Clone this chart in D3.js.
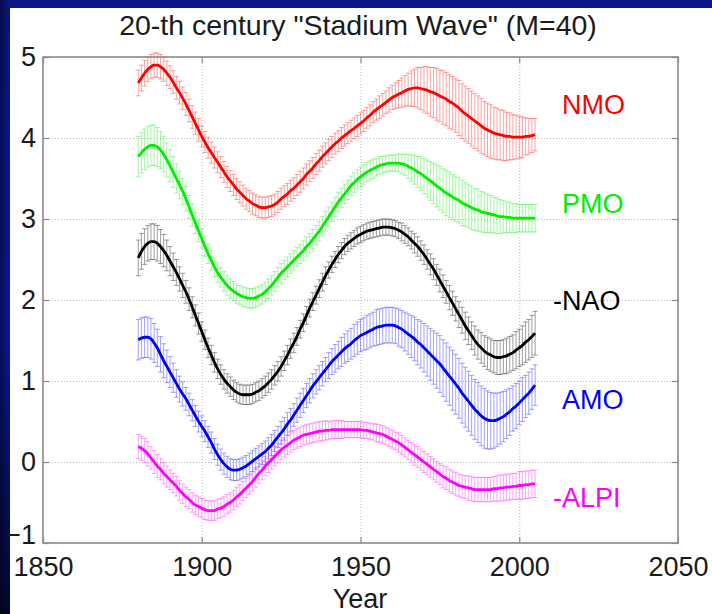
<!DOCTYPE html>
<html><head><meta charset="utf-8">
<script src="https://cdn.jsdelivr.net/npm/d3@7/dist/d3.min.js"></script>
<style>html,body{margin:0;padding:0;background:#0a1580;}svg{display:block}</style>
</head><body>
<svg id="chart" width="712" height="614"></svg>
<script>
const startYear = 1880;
const xTicks = [1850, 1900, 1950, 2000, 2050];
const yTicks = [-1, 0, 1, 2, 3, 4, 5];
const seriesNames = ["NMO", "PMO", "-NAO", "AMO", "-ALPI"];
const seriesColors = ["#ff0000", "#00ee00", "#000000", "#0000ff", "#ff00ff"];
const labelValues = [4.42, 3.19, 2.0, 0.78, -0.43];

const nmo = [4.68,4.74,4.80,4.85,4.88,4.90,4.90,4.88,4.85,4.80,
4.75,4.69,4.62,4.56,4.49,4.42,4.34,4.26,4.18,4.10,
4.02,3.95,3.88,3.82,3.76,3.70,3.64,3.58,3.52,3.47,
3.42,3.37,3.33,3.29,3.25,3.22,3.19,3.17,3.15,3.14,
3.14,3.15,3.16,3.18,3.21,3.25,3.28,3.31,3.35,3.38,
3.42,3.46,3.50,3.55,3.59,3.63,3.68,3.72,3.77,3.81,
3.85,3.89,3.93,3.96,4.00,4.03,4.06,4.09,4.12,4.15,
4.18,4.21,4.25,4.28,4.32,4.35,4.38,4.41,4.44,4.47,
4.50,4.52,4.54,4.56,4.58,4.60,4.61,4.62,4.62,4.61,
4.60,4.59,4.57,4.56,4.54,4.52,4.50,4.48,4.45,4.43,
4.40,4.37,4.33,4.30,4.27,4.24,4.21,4.18,4.15,4.12,
4.10,4.08,4.06,4.05,4.04,4.03,4.02,4.02,4.01,4.01,
4.01,4.01,4.02,4.02,4.03,4.04];
const nmoErr = [.16,.16,.16,.15,.15,.15,.15,.15,.15,.15,
.14,.14,.14,.14,.14,.14,.14,.14,.14,.14,
.13,.13,.13,.13,.13,.13,.13,.13,.13,.13,
.13,.13,.13,.13,.13,.13,.13,.13,.13,.13,
.13,.13,.13,.13,.13,.13,.13,.13,.13,.13,
.13,.13,.13,.13,.13,.13,.13,.13,.13,.13,
.13,.13,.13,.13,.13,.13,.13,.13,.13,.13,
.13,.13,.13,.13,.13,.13,.14,.14,.14,.15,
.15,.16,.17,.18,.19,.20,.22,.23,.25,.26,
.28,.29,.30,.31,.32,.32,.33,.33,.33,.33,
.33,.34,.34,.34,.34,.34,.34,.34,.34,.33,
.33,.33,.32,.32,.31,.31,.30,.29,.28,.27,
.26,.25,.23,.22,.21,.20];

const pmo = [3.77,3.82,3.86,3.89,3.91,3.91,3.89,3.85,3.80,3.73,
3.66,3.58,3.50,3.42,3.34,3.25,3.15,3.05,2.95,2.85,
2.76,2.66,2.57,2.49,2.41,2.34,2.28,2.23,2.18,2.14,
2.11,2.08,2.06,2.04,2.03,2.02,2.02,2.03,2.05,2.07,
2.10,2.14,2.18,2.23,2.28,2.33,2.37,2.41,2.45,2.49,
2.53,2.57,2.61,2.66,2.70,2.75,2.80,2.85,2.91,2.97,
3.03,3.09,3.15,3.21,3.26,3.31,3.36,3.41,3.45,3.49,
3.52,3.55,3.58,3.60,3.62,3.64,3.66,3.67,3.68,3.69,
3.69,3.69,3.69,3.68,3.67,3.65,3.63,3.61,3.58,3.56,
3.53,3.50,3.47,3.44,3.41,3.38,3.35,3.32,3.30,3.27,
3.25,3.23,3.20,3.18,3.16,3.14,3.12,3.11,3.09,3.08,
3.07,3.06,3.05,3.04,3.03,3.03,3.02,3.02,3.01,3.01,
3.01,3.01,3.01,3.01,3.01,3.01];
const pmoErr = [.25,.25,.25,.25,.25,.25,.24,.23,.22,.21,
.20,.19,.18,.17,.16,.15,.14,.14,.13,.13,
.12,.12,.12,.12,.12,.12,.12,.12,.12,.12,
.12,.12,.12,.12,.12,.12,.12,.12,.12,.12,
.12,.12,.12,.12,.12,.12,.12,.12,.12,.12,
.12,.12,.12,.12,.12,.12,.12,.12,.12,.12,
.12,.12,.12,.12,.12,.12,.12,.12,.12,.12,
.12,.12,.12,.12,.12,.11,.11,.10,.10,.10,
.10,.10,.11,.12,.13,.15,.16,.18,.19,.21,
.22,.23,.24,.25,.26,.27,.27,.28,.28,.28,
.28,.28,.28,.27,.27,.27,.26,.26,.25,.25,
.24,.23,.22,.22,.21,.20,.19,.19,.18,.18,
.17,.17,.17,.17,.17,.17];

const nao = [2.52,2.60,2.66,2.70,2.72,2.72,2.70,2.66,2.61,2.55,
2.48,2.41,2.34,2.26,2.18,2.10,2.01,1.91,1.81,1.71,
1.61,1.51,1.41,1.32,1.23,1.15,1.08,1.02,0.97,0.93,
0.89,0.86,0.84,0.83,0.83,0.83,0.84,0.86,0.88,0.91,
0.94,0.98,1.02,1.07,1.12,1.18,1.25,1.32,1.40,1.47,
1.55,1.64,1.72,1.81,1.90,1.98,2.06,2.14,2.22,2.30,
2.37,2.44,2.50,2.56,2.61,2.66,2.70,2.73,2.76,2.79,
2.81,2.83,2.85,2.86,2.87,2.88,2.89,2.90,2.90,2.90,
2.89,2.88,2.86,2.84,2.81,2.78,2.74,2.70,2.66,2.61,
2.56,2.50,2.44,2.38,2.31,2.24,2.17,2.10,2.03,1.96,
1.89,1.82,1.75,1.68,1.62,1.56,1.50,1.45,1.41,1.37,
1.34,1.32,1.30,1.29,1.29,1.30,1.31,1.33,1.35,1.38,
1.41,1.44,1.48,1.51,1.55,1.59];
const naoErr = [.22,.22,.22,.22,.22,.22,.22,.21,.20,.19,
.18,.17,.16,.15,.15,.14,.14,.13,.13,.13,
.12,.12,.12,.12,.12,.12,.12,.12,.12,.12,
.12,.12,.12,.12,.12,.12,.12,.12,.12,.12,
.12,.12,.12,.12,.12,.12,.12,.12,.12,.12,
.11,.11,.11,.11,.11,.11,.11,.11,.11,.11,
.10,.10,.10,.10,.10,.10,.10,.10,.10,.10,
.10,.10,.10,.10,.10,.10,.10,.10,.10,.10,
.10,.10,.10,.11,.11,.11,.11,.12,.12,.12,
.12,.12,.13,.13,.13,.14,.14,.14,.15,.15,
.15,.16,.16,.17,.17,.17,.18,.18,.19,.19,
.20,.20,.20,.21,.21,.21,.22,.22,.22,.23,
.23,.24,.25,.25,.26,.27];

const amo = [1.51,1.53,1.54,1.54,1.52,1.47,1.41,1.33,1.25,1.18,
1.11,1.04,0.97,0.90,0.84,0.78,0.71,0.64,0.57,0.50,
0.44,0.38,0.31,0.24,0.16,0.09,0.03,-0.02,-0.06,-0.09,
-0.10,-0.10,-0.09,-0.07,-0.05,-0.02,0.01,0.04,0.07,0.10,
0.13,0.17,0.21,0.26,0.31,0.36,0.41,0.47,0.52,0.58,
0.64,0.70,0.76,0.82,0.88,0.94,0.99,1.04,1.09,1.14,
1.19,1.24,1.28,1.32,1.36,1.40,1.43,1.46,1.50,1.53,
1.56,1.58,1.60,1.62,1.64,1.66,1.67,1.68,1.69,1.69,
1.69,1.68,1.66,1.64,1.61,1.58,1.55,1.52,1.48,1.45,
1.41,1.37,1.33,1.29,1.25,1.21,1.16,1.11,1.06,1.01,
0.96,0.91,0.85,0.80,0.75,0.70,0.65,0.61,0.57,0.54,
0.52,0.51,0.51,0.52,0.54,0.56,0.59,0.62,0.66,0.69,
0.73,0.77,0.81,0.85,0.90,0.95];
const amoErr = [.25,.25,.25,.25,.25,.24,.23,.22,.21,.20,
.19,.18,.17,.16,.15,.14,.14,.13,.13,.13,
.13,.13,.13,.13,.13,.13,.13,.13,.13,.13,
.13,.13,.13,.13,.13,.13,.13,.13,.13,.13,
.13,.13,.13,.13,.13,.14,.14,.14,.14,.14,
.15,.15,.15,.15,.15,.15,.15,.15,.15,.15,
.16,.16,.17,.17,.18,.18,.19,.19,.20,.20,
.20,.20,.21,.21,.21,.22,.22,.22,.22,.22,
.22,.22,.23,.23,.24,.25,.26,.27,.28,.29,
.30,.31,.32,.33,.34,.35,.35,.36,.36,.37,
.37,.37,.37,.37,.37,.37,.37,.37,.37,.37,
.36,.35,.34,.33,.32,.31,.30,.29,.28,.28,
.27,.27,.26,.26,.25,.25];

const alpi = [0.19,0.17,0.14,0.10,0.05,0.00,-0.05,-0.09,-0.14,-0.18,
-0.22,-0.26,-0.30,-0.35,-0.39,-0.43,-0.46,-0.50,-0.53,-0.55,
-0.57,-0.59,-0.60,-0.60,-0.60,-0.58,-0.57,-0.55,-0.52,-0.50,
-0.47,-0.43,-0.40,-0.36,-0.32,-0.28,-0.24,-0.19,-0.14,-0.10,
-0.05,-0.01,0.03,0.07,0.11,0.15,0.18,0.21,0.24,0.27,
0.29,0.31,0.33,0.34,0.35,0.36,0.37,0.38,0.38,0.39,
0.39,0.40,0.40,0.40,0.40,0.40,0.40,0.40,0.40,0.40,
0.40,0.39,0.39,0.38,0.37,0.36,0.35,0.34,0.32,0.30,
0.28,0.26,0.24,0.21,0.18,0.15,0.12,0.09,0.06,0.03,
0.00,-0.03,-0.06,-0.09,-0.12,-0.15,-0.18,-0.20,-0.23,-0.25,
-0.27,-0.29,-0.30,-0.31,-0.32,-0.33,-0.34,-0.34,-0.34,-0.34,
-0.34,-0.34,-0.33,-0.33,-0.32,-0.32,-0.31,-0.31,-0.30,-0.30,
-0.29,-0.29,-0.28,-0.28,-0.27,-0.27];
const alpiErr = [.15,.15,.15,.15,.14,.14,.14,.13,.13,.13,
.12,.12,.12,.12,.12,.12,.12,.12,.12,.12,
.12,.12,.12,.12,.12,.12,.12,.12,.12,.12,
.12,.12,.12,.12,.12,.12,.12,.12,.12,.12,
.12,.12,.12,.12,.12,.12,.12,.12,.12,.12,
.12,.12,.12,.12,.12,.12,.12,.12,.12,.12,
.11,.11,.11,.11,.11,.10,.10,.10,.10,.10,
.10,.10,.10,.10,.10,.11,.11,.11,.11,.11,
.11,.11,.12,.12,.12,.12,.12,.13,.13,.13,
.13,.13,.13,.13,.13,.13,.14,.14,.14,.14,
.14,.14,.14,.14,.15,.15,.15,.15,.15,.15,
.15,.15,.15,.16,.16,.16,.16,.16,.16,.16,
.17,.17,.17,.17,.17,.17];

const seriesMeans = [nmo, pmo, nao, amo, alpi];
const seriesErrs = [nmoErr, pmoErr, naoErr, amoErr, alpiErr];

(function draw() {
const W = 712, H = 614;
const pL = 43, pR = 678, pT = 57, pB = 543;
const FONT = "'Liberation Sans', Arial, Helvetica, sans-serif";

const svg = d3.select("#chart");
const defs = svg.append("defs");
const g1 = defs.append("linearGradient").attr("id", "bgv").attr("x1", 0).attr("y1", 0).attr("x2", 0).attr("y2", 1);
g1.append("stop").attr("offset", "0%").attr("stop-color", "#0b1687");
g1.append("stop").attr("offset", "55%").attr("stop-color", "#0a1a9e");
g1.append("stop").attr("offset", "100%").attr("stop-color", "#020838");
const g2 = defs.append("linearGradient").attr("id", "bgh").attr("x1", 0).attr("y1", 0).attr("x2", 1).attr("y2", 0);
g2.append("stop").attr("offset", "0%").attr("stop-color", "#000000").attr("stop-opacity", 0.45);
g2.append("stop").attr("offset", "100%").attr("stop-color", "#000000").attr("stop-opacity", 0);

svg.append("rect").attr("width", W).attr("height", H).attr("fill", "url(#bgv)");
svg.append("rect").attr("width", 10).attr("height", H).attr("fill", "url(#bgh)");
svg.append("rect").attr("x", 10).attr("y", 8).attr("width", W - 10).attr("height", H - 8).attr("fill", "#ffffff");

const x = d3.scaleLinear().domain([1850, 2050]).range([pL, pR]);
const y = d3.scaleLinear().domain([-1, 5]).range([pB, pT]);

// grid
const grid = svg.append("g").attr("stroke", "#b8b8b8").attr("stroke-width", 1).attr("stroke-dasharray", "1,2");
grid.selectAll(".gx").data(xTicks.slice(1, -1)).join("line")
  .attr("x1", d => x(d) + 0.5).attr("x2", d => x(d) + 0.5).attr("y1", pT).attr("y2", pB);
grid.selectAll(".gy").data(yTicks.slice(1, -1)).join("line")
  .attr("y1", d => y(d) + 0.5).attr("y2", d => y(d) + 0.5).attr("x1", pL).attr("x2", pR);

// error bars
const cap = 2.5;
seriesMeans.forEach((m, si) => {
  const e = seriesErrs[si];
  const gg = svg.append("g").attr("stroke", seriesColors[si]).attr("stroke-opacity", si === 2 ? 0.38 : 0.36).attr("stroke-width", 1);
  m.forEach((v, i) => {
    const yr = startYear + i;
    const xx = x(yr), y1 = y(v - e[i]), y2 = y(v + e[i]);
    gg.append("line").attr("x1", xx).attr("x2", xx).attr("y1", y1).attr("y2", y2);
    gg.append("line").attr("x1", xx - cap).attr("x2", xx + cap).attr("y1", y1).attr("y2", y1);
    gg.append("line").attr("x1", xx - cap).attr("x2", xx + cap).attr("y1", y2).attr("y2", y2);
  });
});

// mean lines
const line = d3.line().x((d, i) => x(startYear + i)).y(d => y(d)).curve(d3.curveMonotoneX);
seriesMeans.forEach((m, si) => {
  svg.append("path").datum(m).attr("d", line).attr("fill", "none")
    .attr("stroke", seriesColors[si]).attr("stroke-width", 2.8).attr("stroke-linejoin", "round");
});

// axes
function styleAxis(sel, showText) {
  sel.select(".domain").remove();
  sel.selectAll(".tick line").attr("stroke", "#8a8a8a").attr("stroke-width", 1.2);
  sel.selectAll(".tick text").attr("fill", "#1a1a1a").style("font-family", FONT).style("font-size", "27px");
  if (!showText) sel.selectAll(".tick text").remove();
}
svg.append("g").attr("transform", `translate(0,${pB})`)
  .call(d3.axisBottom(x).tickValues(xTicks).tickSize(-6).tickPadding(14).tickFormat(d3.format("d")))
  .call(s => styleAxis(s, true));
svg.append("g").attr("transform", `translate(0,${pT})`)
  .call(d3.axisTop(x).tickValues(xTicks).tickSize(-6)).call(s => styleAxis(s, false));
const yAx = svg.append("g").attr("transform", `translate(${pL},0)`)
  .call(d3.axisLeft(y).tickValues(yTicks).tickSize(-6).tickPadding(7).tickFormat(d3.format("d")))
  .call(s => styleAxis(s, true));
// lift the lowest label a little, as in the reference, so it sits just above "1850"
yAx.selectAll(".tick").filter(d => d === -1).select("text").attr("y", -8);
svg.append("g").attr("transform", `translate(${pR},0)`)
  .call(d3.axisRight(y).tickValues(yTicks).tickSize(-6)).call(s => styleAxis(s, false));

// box
svg.append("rect").attr("x", pL).attr("y", pT).attr("width", pR - pL).attr("height", pB - pT)
  .attr("fill", "none").attr("stroke", "#8a8a8a").attr("stroke-width", 1.6);

// title and axis label
svg.append("text").attr("x", 358).attr("y", 35).attr("text-anchor", "middle")
  .style("font-family", FONT).style("font-size", "28.5px").attr("fill", "#1a1a1a")
  .text('20-th century "Stadium Wave" (M=40)');
svg.append("text").attr("x", 360).attr("y", 608).attr("text-anchor", "middle")
  .style("font-family", FONT).style("font-size", "27px").attr("fill", "#1a1a1a")
  .text("Year");

// series labels
seriesNames.forEach((name, si) => {
  const lx = 562 - (name.startsWith("-") ? 9 : 0);
  svg.append("text").attr("x", lx).attr("y", y(labelValues[si])).attr("dy", "0.36em")
    .style("font-family", FONT).style("font-size", "27px").attr("fill", seriesColors[si])
    .text(name);
});
})();
</script>
</body></html>
